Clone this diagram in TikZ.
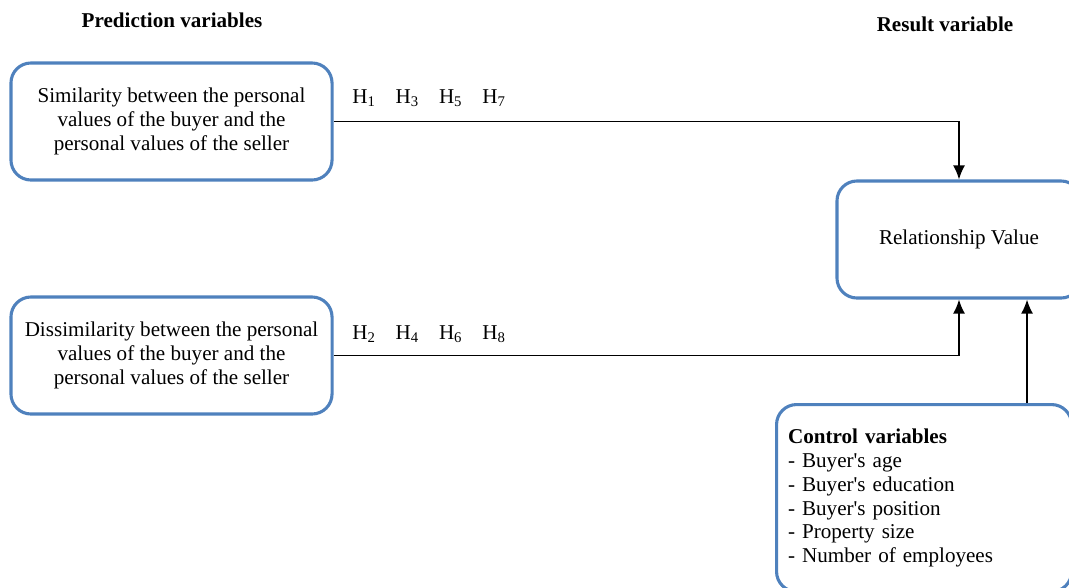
\documentclass[tikz,border=0pt]{standalone}
\usepackage{fontspec}
\setmainfont{Liberation Serif}
\usetikzlibrary{positioning, arrows.meta}
\definecolor{boxblue}{RGB}{79,129,189}

\begin{document}
\begin{tikzpicture}[x=0.025cm, y=-0.025cm]
    \tikzstyle{every node}=[font=\fontsize{15}{17}\selectfont, align=center]
    \tikzset{
        n/.style={draw=boxblue, line width=2.2pt, rounded corners=0.5cm, minimum height=2.925cm, minimum width=8.025cm},
        n2/.style={n, minimum width=6.1cm},
        n3/.style={n, minimum width=7.375cm, minimum height=4.675cm, text width=6.8cm, align=left, inner xsep=0.27cm},
        hyp/.style={anchor=west, inner sep=0pt},
        title/.style={font=\fontsize{15}{17}\selectfont\bfseries},
        arr/.style={line width=1pt, -{Latex[length=10pt, width=8.5pt]}}
        }
    \useasboundingbox (0,0) rectangle (1069,587);

    %titles
    \node (predtitle) [title] at (172,20) {Prediction variables};
    \node (restitle) [title] at (945,24) {Result variable};

    %prediction variables
    \node (sim) [n] at (171.5,121.5) {Similarity between the personal\\ values of the buyer and the\\ personal values of the seller};
    \node (dissim) [n] at (171.5,355.5) {Dissimilarity between the personal\\ values of the buyer and the\\ personal values of the seller};

    %result variable
    \node (relval) [n2] at (959,239.5) {Relationship Value};

    %control variables
    \node (control) [n3, anchor=north west] at (775,403) {\textbf{Control variables}\\
        - Buyer\textquotesingle s age\\
        - Buyer\textquotesingle s education\\
        - Buyer\textquotesingle s position\\
        - Property size\\
        - Number of employees};

    %hypotheses
    \node (hypodd) [hyp] at (352,98) {H\textsubscript{1}\hspace{0.95em}H\textsubscript{3}\hspace{0.95em}H\textsubscript{5}\hspace{0.95em}H\textsubscript{7}};
    \node (hypeven) [hyp] at (352,334) {H\textsubscript{2}\hspace{0.95em}H\textsubscript{4}\hspace{0.95em}H\textsubscript{6}\hspace{0.95em}H\textsubscript{8}};

    \coordinate (ctrlin) at ([xshift=1.7cm]relval.south);

    \draw[arr] (sim.east) -| (relval.north);
    \draw[arr] (dissim.east) -| (relval.south);
    \draw[arr] (control.north -| ctrlin) -- (ctrlin);
\end{tikzpicture}
\end{document}
